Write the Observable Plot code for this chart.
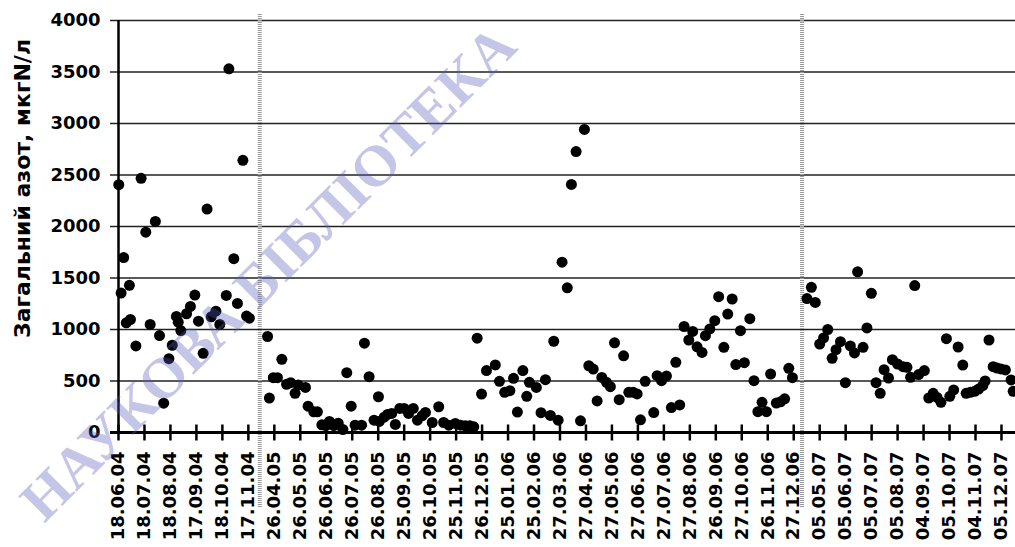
<!DOCTYPE html>
<html><head><meta charset="utf-8">
<script src="https://cdn.jsdelivr.net/npm/d3@7"></script>
<script src="https://cdn.jsdelivr.net/npm/@observablehq/plot@0.6"></script>
<style>html,body{margin:0;padding:0;background:#fff;}</style>
</head><body><div id="chart"></div>
<script>
// category tick labels (one per axis slot)
const tickLabels = ["18.06.04","18.07.04","18.08.04","17.09.04","18.10.04","17.11.04",
"26.04.05","26.05.05","26.06.05","26.07.05","26.08.05","25.09.05","26.10.05","25.11.05","26.12.05","25.01.06","25.02.06","27.03.06","27.04.06","27.05.06","27.06.06","27.07.06","27.08.06","26.09.06","27.10.06","26.11.06","27.12.06",
"05.05.07","05.06.07","05.07.07","05.08.07","04.09.07","05.10.07","04.11.07","05.12.07"];
const yTicks = [0,500,1000,1500,2000,2500,3000,3500,4000];
const yTitle = "Загальний азот, мкгN/л";
const watermark = "НАУКОВА БІБЛІОТЕКА";
const axisBreaks = [5.44, 26.32];

// 2004
const pos2004 = [0.01,0.10,0.20,0.30,0.42,0.46,0.67,0.87,1.05,1.22,1.42,1.58,1.74,1.94,2.07,2.23,2.30,2.40,2.62,2.77,2.94,3.08,3.26,3.41,3.57,3.75,3.90,4.15,4.25,4.44,4.58,4.79,4.93,5.04];
const val2004 = [2406,1354,1698,1065,1429,1097,841,2468,1945,1049,2049,941,285,717,847,1127,1071,990,1153,1224,1334,1081,769,2169,1123,1178,1049,1331,3531,1688,1253,2643,1130,1110];
// 2005-2006
const pos2005 = [5.74,5.81,5.96,6.12,6.29,6.47,6.63,6.80,6.92,7.20,7.30,7.52,7.66,7.83,7.98,8.12,8.29,8.46,8.64,8.79,8.96,9.11,9.36,9.47,9.65,9.84,10.01,10.04,10.23,10.36,10.52,10.66,10.83,11.00,11.17,11.35,11.51,11.69,11.82,12.08,12.33,12.52,12.72,12.97,13.17,13.36,13.53,13.68,13.81,13.98,14.17,14.51,14.67,14.87,15.07,15.21,15.36,15.57,15.72,15.82,16.09,16.27,16.44,16.63,16.76,16.93];
const val2005 = [932,334,532,532,711,468,484,380,461,438,256,201,201,75,68,107,68,91,29,581,256,71,71,867,542,120,347,107,149,175,185,78,234,234,185,234,120,162,195,97,250,97,71,88,71,65,65,55,916,373,601,656,497,390,406,526,198,601,351,487,438,192,513,166,886,120];
const pos2006 = [17.08,17.28,17.44,17.62,17.79,17.94,18.11,18.28,18.43,18.61,18.79,18.94,19.10,19.28,19.45,19.65,19.82,19.97,20.10,20.28,20.61,20.74,20.91,21.10,21.29,21.46,21.61,21.78,21.96,22.11,22.28,22.47,22.60,22.77,22.96,23.11,23.31,23.46,23.63,23.77,23.95,24.10,24.31,24.47,24.62,24.78,24.95,25.11,25.33,25.49,25.65,25.81,25.95];
const val2006 = [1654,1405,2408,2728,113,2942,648,616,306,535,487,445,871,319,745,390,390,374,123,497,194,552,503,548,242,681,268,1029,897,981,832,777,940,1005,1086,1319,827,1150,1296,659,989,678,1105,503,202,293,202,568,286,298,327,623,532];
// 2007
const pos2007 = [26.51,26.68,26.83,27.00,27.15,27.31,27.48,27.63,27.80,27.99,28.18,28.34,28.46,28.67,28.82,28.99,29.17,29.33,29.48,29.65,29.80,30.00,30.21,30.36,30.50,30.66,30.81,31.03,31.20,31.37,31.52,31.67,31.88,32.01,32.16,32.33,32.51,32.64,32.80,32.97,33.12,33.28,33.37,33.52,33.68,33.83,33.98,34.15,34.37,34.45];
const val2007 = [1300,1409,1263,859,918,1000,720,804,882,484,840,772,1560,827,1015,1351,484,380,610,529,707,665,639,633,536,1426,562,601,335,380,341,293,911,351,413,830,655,380,390,400,422,455,500,898,639,626,617,607,510,400];

const data = [[pos2004,val2004],[pos2005,val2005],[pos2006,val2006],[pos2007,val2007]]
  .flatMap(([p,v]) => p.map((x,i) => ({x, y: v[i]})));

const tickSym = {draw(ctx, size){ const h = Math.sqrt(size/Math.PI); ctx.moveTo(0,-h); ctx.lineTo(0,h); }};

const chart = Plot.plot({
  width: 1015, height: 547,
  marginTop: 20, marginRight: 0, marginBottom: 115, marginLeft: 118,
  style: {fontFamily: "'DejaVu Sans', sans-serif", fontWeight: "bold", background: "#fff", color: "#000"},
  x: {domain: [0, 34.54], axis: null},
  y: {domain: [0, 4000], axis: null},
  marks: [
    Plot.ruleY(yTicks.filter(d => d > 0), {stroke: "#222", strokeWidth: 1.6, insetLeft: -8}),
    Plot.ruleX(axisBreaks, {stroke: "#9a9a9a", strokeWidth: 4, strokeDasharray: "1 1", insetTop: -6, insetBottom: -75}),
    Plot.dot(data, {x: "x", y: "y", r: 5.5, fill: "#000"}),
    Plot.ruleX([0], {stroke: "#000", strokeWidth: 2.5}),
    Plot.ruleY([0], {stroke: "#000", strokeWidth: 3, insetLeft: -8}),
    Plot.dot(tickLabels, {x: (d,i) => i, y: () => 0, symbol: tickSym, r: 8, stroke: "#000", strokeWidth: 2.5, fill: "none"}),
    Plot.text(tickLabels, {x: (d,i) => i, y: () => 0, text: d => d, rotate: -90, textAnchor: "end", lineAnchor: "middle", dy: 19, fontSize: 18, fontWeight: "bold", fill: "#000"}),
    Plot.text(yTicks, {frameAnchor: "left", y: d => d, text: d => String(d), textAnchor: "end", dx: -18, fontSize: 18, fontWeight: "bold", fill: "#000"}),
    Plot.text([yTitle], {frameAnchor: "left", text: d => d, rotate: -90, textAnchor: "middle", lineAnchor: "middle", dx: -96, dy: -38, fontSize: 22, fontWeight: "bold", fill: "#000"}),
    Plot.text([watermark], {frameAnchor: "top-left", text: d => d, rotate: -45, textAnchor: "middle", lineAnchor: "middle", dx: 150, dy: 253, fontSize: 58, fontFamily: "'Liberation Serif', serif", fontWeight: "bold", fill: "#5a5ab9", fillOpacity: 0.35})
  ]
});
document.getElementById("chart").appendChild(chart);
</script>
</body></html>
